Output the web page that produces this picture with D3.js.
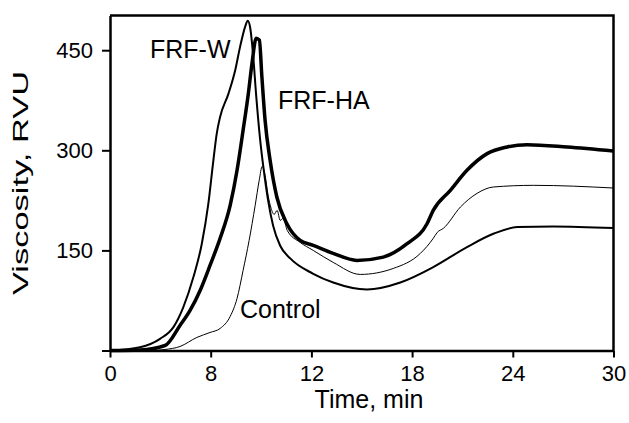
<!DOCTYPE html>
<html>
<head>
<meta charset="utf-8">
<script src="https://cdn.jsdelivr.net/npm/d3@7"></script>
<style>
body { margin: 0; background: #fff; }
text { font-family: "Liberation Sans", Arial, sans-serif; fill: #000; }
</style>
</head>
<body>
<div id="chart"></div>
<script>
var width = 629
var height = 423
var plotLeft = 110, plotRight = 613.5, plotTop = 15.5, plotBottom = 350.5

// time (min), viscosity (RVU)
var frfW = [[0,0],[1.79,5],[2.98,17.5],[3.78,35],[4.37,65],[4.97,110],[5.47,160],[5.86,220],[6.16,285],[6.36,325],[6.56,350],[7.06,385],[7.46,420],[7.75,455],[8.05,485],[8.21,494],[8.35,484],[8.53,442],[8.71,382],[8.95,315],[9.18,267],[9.42,225],[9.72,187],[10.14,157],[10.74,138],[12.11,115],[13.3,102],[15.31,91.5],[17.3,102],[19.26,125],[21.27,155],[22.84,175],[24.26,185],[26.42,186],[30,183.5]]
var frfHA = [[0,0],[1.79,0.8],[3.28,7.5],[4.17,37.5],[4.77,60],[5.37,90],[5.96,127.5],[6.56,168],[7.16,217.5],[7.57,270],[7.93,330],[8.23,382.5],[8.47,432],[8.71,468],[8.9,465],[9.05,410],[9.24,345],[9.54,285],[9.94,230],[10.54,190],[11.33,165],[12.11,157.5],[13.3,145.5],[14.71,135],[16.28,140],[17.7,160],[18.89,190],[19.26,210],[20.28,240],[21.27,270],[22.47,295],[23.66,305],[24.85,308.5],[27.24,305],[30,299]]
var control = [[0,0],[2.39,0],[3.28,1.5],[4.17,6],[5.17,19.5],[5.96,27],[6.56,33],[7.16,51],[7.57,78],[7.93,120],[8.29,165],[8.65,217.5],[8.89,255],[9.07,276],[9.24,262.5],[9.42,232.5],[9.6,213],[9.78,204],[9.96,210],[10.14,195],[10.32,198],[10.56,180],[11.33,162],[12.11,150],[13.3,132],[14.91,114],[16.88,123],[18.49,145.5],[19.26,168],[19.5,177],[19.86,183],[20.88,215],[21.87,235.5],[22.84,245],[25.23,247.5],[30,243.5]]

var xTicks = [0,6,12,18,24,30]
var xTickLabels = ["0","8","12","18","24","30"]
var yTicks = [0,150,300,450]
var yTickLabels = ["","150","300","450"]

var x = d3.scaleLinear().domain([0,30]).range([plotLeft, plotRight])
var y = d3.scaleLinear().domain([0,502]).range([plotBottom, plotTop])

var svg = d3.select("#chart")
    .append("svg")
    .attr("width", width)
    .attr("height", height)

// frame top + right
svg.append("path")
    .attr("d", "M" + plotLeft + "," + plotTop + "H" + plotRight + "V" + plotBottom)
    .attr("fill", "none")
    .attr("stroke", "#000")
    .attr("stroke-width", 2.5)

var line = d3.line()
    .x(function(d) { return x(d[0]); })
    .y(function(d) { return y(d[1]); })
    .curve(d3.curveMonotoneX)

svg.append("path").datum(control)
    .attr("d", line).attr("fill", "none").attr("stroke", "#000").attr("stroke-width", 1)
svg.append("path").datum(frfW)
    .attr("d", line).attr("fill", "none").attr("stroke", "#000").attr("stroke-width", 2)
svg.append("path").datum(frfHA)
    .attr("d", line).attr("fill", "none").attr("stroke", "#000").attr("stroke-width", 3.5)

svg.append("g")
    .attr("transform", "translate(0," + plotBottom + ")")
    .call(d3.axisBottom(x).tickValues(xTicks)
        .tickFormat(function(d, i) { return xTickLabels[i]; })
        .tickSize(7).tickSizeOuter(0).tickPadding(8))
svg.append("g")
    .attr("transform", "translate(" + plotLeft + ",0)")
    .call(d3.axisLeft(y).tickValues(yTicks)
        .tickFormat(function(d, i) { return yTickLabels[i]; })
        .tickSize(8).tickSizeOuter(0).tickPadding(9))

svg.selectAll(".domain").attr("stroke-width", 2.5)
svg.selectAll(".tick line").attr("stroke-width", 2)
svg.selectAll(".tick text")
    .style("font-family", "'Liberation Sans', Arial, sans-serif")
    .style("font-size", "22px")

// the y title is stretched along its length in the original
svg.append("text")
    .attr("transform", "translate(" + [28, 183] + ") rotate(-90) scale(1.5,1)")
    .attr("text-anchor", "middle")
    .style("font-size", "23px")
    .text("Viscosity, RVU")

svg.append("text")
    .attr("x", 369)
    .attr("y", 408)
    .attr("text-anchor", "middle")
    .style("font-size", "25px")
    .text("Time, min")

svg.append("text").attr("x", 150).attr("y", 58).style("font-size", "25px").text("FRF-W")
svg.append("text").attr("x", 278).attr("y", 109).style("font-size", "25px").text("FRF-HA")
svg.append("text").attr("x", 240).attr("y", 318).style("font-size", "25px").text("Control")
</script>
</body>
</html>
